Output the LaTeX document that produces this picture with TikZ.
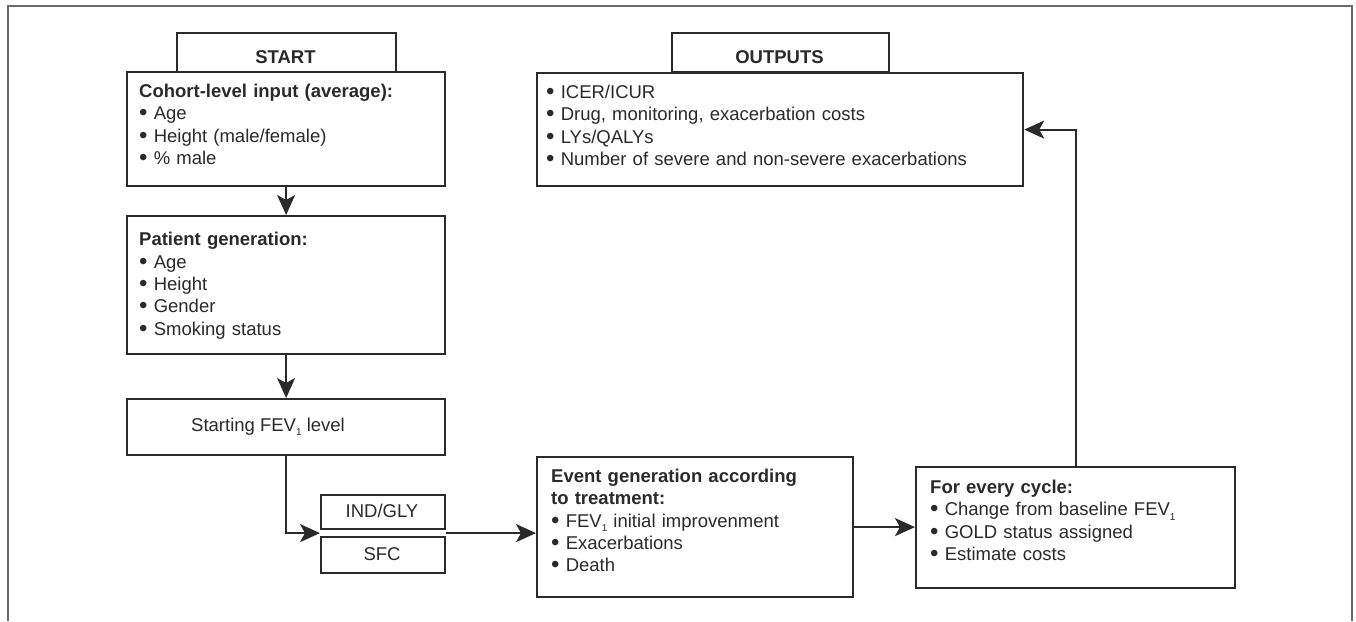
\documentclass[tikz,border=0pt]{standalone}
\usepackage{fontspec}
\setmainfont{Liberation Sans}
\usetikzlibrary{arrows.meta,calc}
\definecolor{boxcol}{HTML}{2A2A2A}
\definecolor{framecol}{HTML}{6A6A6A}
\newcommand{\bul}{\raisebox{-1pt}{\fontsize{24}{22}\selectfont\textbullet}\ }
\newcommand{\sub}[1]{\raisebox{-4.5pt}{\fontsize{10}{10}\selectfont #1}}
\begin{document}
\begin{tikzpicture}[x=1pt,y=-1pt,
  box/.style={draw=boxcol, line width=2.2pt, inner sep=0pt, anchor=north west, fill=white},
  txt/.style={anchor=north west, inner sep=0pt, align=left, text width=#1,
    font=\fontsize{18.5}{22.3}\selectfont, text=boxcol},
  txt/.default=300pt,
  lbl/.style={inner sep=0pt, font=\fontsize{18.5}{22}\selectfont, text=boxcol},
  arr/.style={draw=boxcol, line width=2.2pt, -{Stealth[length=20pt,width=18pt,inset=5pt]}}
]
\useasboundingbox (0,0) rectangle (1356,621);
% outer frame
\draw[framecol, line width=1.6pt] (8,621) -- (8,6) -- (1352,6) -- (1352,621);

% START column
\node[box, minimum width=219, minimum height=39] (starttab) at (176,32) {};
\node[lbl, font=\fontsize{18.5}{22}\selectfont\bfseries] (starttxt) at (285.5,57) {START};
\node[box, minimum width=318, minimum height=114] (cohort) at (126,71) {};
\node[txt] (cohorttxt) at (139,81.6) {\strut\textbf{Cohort-level input (average):}\\
  \bul Age\\
  \bul Height (male/female)\\
  \bul \% male};

\node[box, minimum width=318, minimum height=138] (patient) at (126,215) {};
\node[txt] (patienttxt) at (139,230) {\strut\textbf{Patient generation:}\\
  \bul Age\\
  \bul Height\\
  \bul Gender\\
  \bul Smoking status};

\node[box, minimum width=318, minimum height=56] (fev) at (126,398) {};
\node[lbl, anchor=base] (fevtxt) at (268,431) {Starting FEV\sub{1} level};

\node[box, minimum width=124, minimum height=34] (indgly) at (320,494) {};
\node[lbl] (indglytxt) at (382,511) {IND/GLY};
\node[box, minimum width=124, minimum height=36] (sfc) at (320,536) {};
\node[lbl] (sfctxt) at (382,554) {SFC};

% event generation
\node[box, minimum width=316, minimum height=140] (event) at (536,456) {};
\node[txt] (eventtxt) at (551,466.6) {\strut\textbf{Event generation according}\\
  \textbf{to treatment:}\\
  \bul FEV\sub{1} initial improvenment\\
  \bul Exacerbations\\
  \bul Death};

% cycle
\node[box, minimum width=319, minimum height=121] (cycle) at (915,466) {};
\node[txt] (cycletxt) at (930,477.6) {\strut\textbf{For every cycle:}\\
  \bul Change from baseline FEV\sub{1}\\
  \bul GOLD status assigned\\
  \bul Estimate costs};

% outputs
\node[box, minimum width=217, minimum height=39] (outtab) at (671,32) {};
\node[lbl, font=\fontsize{18.5}{22}\selectfont\bfseries] (outtabtxt) at (779.5,57) {OUTPUTS};
\node[box, minimum width=486, minimum height=113] (outputs) at (536,72) {};
\node[txt=470pt] (outputstxt) at (546,82.6) {\strut\bul ICER/ICUR\\
  \bul Drug, monitoring, exacerbation costs\\
  \bul LYs/QALYs\\
  \bul Number of severe and non-severe exacerbations};

% connectors
\draw[arr] (cohort.south) -- (patient.north);
\draw[arr] (patient.south) -- (fev.north);
\coordinate (gapL) at ($(indgly.south west)!0.5!(sfc.north west)$);
\coordinate (gapR) at ($(indgly.south east)!0.5!(sfc.north east)$);
\draw[arr] (fev.south) |- (gapL);
\draw[arr] (gapR) -- (gapR -| event.west);
\draw[arr] (event.east) -- (event.east -| cycle.west);
\draw[arr] (cycle.north) |- (outputs.east);
\end{tikzpicture}
\end{document}
